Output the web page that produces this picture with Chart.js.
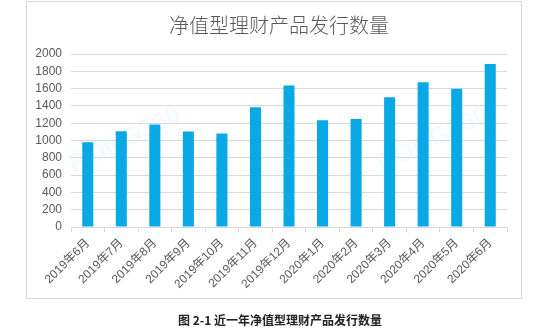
<!DOCTYPE html>
<html>
<head>
<meta charset="utf-8">
<script src="https://cdn.jsdelivr.net/npm/chart.js@4.4.1/dist/chart.umd.min.js"></script>
<style>
html,body{margin:0;padding:0;background:#fff;}
#wrap{width:550px;height:330px;position:relative;}
</style>
</head>
<body>
<div id="wrap"><canvas id="c" width="550" height="330"></canvas></div>
<script>
const categories = ['2019年6月','2019年7月','2019年8月','2019年9月','2019年10月','2019年11月','2019年12月','2020年1月','2020年2月','2020年3月','2020年4月','2020年5月','2020年6月'];
const issuance = [980, 1108, 1186, 1105, 1081, 1384, 1636, 1233, 1248, 1500, 1674, 1597, 1884];
const yTicks = [0, 200, 400, 600, 800, 1000, 1200, 1400, 1600, 1800, 2000];
const chartTitle = '净值型理财产品发行数量';
const caption = '图 2-1 近一年净值型理财产品发行数量';
const watermark = 'RONG360';

const CJK = "'Liberation Sans', 'Noto Sans CJK SC', sans-serif";

const decor = {
  id: 'decor',
  beforeDraw(chart) {
    const ctx = chart.ctx;
    ctx.save();
    ctx.fillStyle = '#fff';
    ctx.fillRect(0, 0, chart.width, chart.height);
    ctx.strokeStyle = '#d9d9d9';
    ctx.lineWidth = 1;
    ctx.strokeRect(26.5, 1.5, 495, 297);
    ctx.fillStyle = 'rgba(0,169,230,0.05)';
    ctx.font = "bold 26px 'Liberation Sans', sans-serif";
    ctx.textAlign = 'center';
    ctx.textBaseline = 'middle';
    [[125, 140], [433, 140]].forEach(([x, y]) => {
      ctx.save();
      ctx.translate(x, y);
      ctx.rotate(-0.45);
      ctx.fillText(watermark, 0, 0);
      ctx.restore();
    });
    ctx.restore();
  },
  afterDraw(chart) {
    const ctx = chart.ctx;
    ctx.save();
    ctx.textAlign = 'center';
    ctx.textBaseline = 'middle';
    ctx.fillStyle = '#595959';
    ctx.font = "300 20px 'Noto Sans CJK SC', sans-serif";
    ctx.fillText(chartTitle, 279, 25);
    ctx.fillStyle = '#222';
    ctx.font = "bold 12px 'Noto Sans CJK SC', sans-serif";
    ctx.fillText(caption, 280, 320);
    ctx.restore();
  }
};

new Chart(document.getElementById('c'), {
  type: 'bar',
  data: {
    labels: categories,
    datasets: [{
      data: issuance,
      backgroundColor: '#0aa9e6',
      borderWidth: 0,
      barPercentage: 0.33,
      categoryPercentage: 1.0
    }]
  },
  options: {
    responsive: false,
    animation: false,
    devicePixelRatio: 1,
    layout: { padding: { left: 30, right: 43, top: 54, bottom: 33 } },
    plugins: { legend: { display: false }, title: { display: false }, tooltip: { enabled: false } },
    scales: {
      x: {
        offset: true,
        grid: { display: true, drawOnChartArea: false, drawTicks: true, tickLength: 5, offset: true, color: '#d9d9d9' },
        border: { display: true, color: '#d9d9d9' },
        ticks: { maxRotation: 45, minRotation: 45, autoSkip: false, padding: 4, color: '#595959', font: { size: 12, family: CJK } },
        afterFit(scale) { scale.height = 70; }
      },
      y: {
        min: yTicks[0], max: yTicks[yTicks.length - 1],
        afterBuildTicks(scale) { scale.ticks = yTicks.map(v => ({ value: v })); },
        ticks: { autoSkip: false, padding: 9, color: '#595959', font: { size: 12, family: CJK }, callback: v => String(v) },
        grid: { color: '#d9d9d9', drawTicks: false },
        border: { display: false },
        afterFit(scale) { scale.width = 41; }
      }
    }
  },
  plugins: [decor]
});
</script>
</body>
</html>
